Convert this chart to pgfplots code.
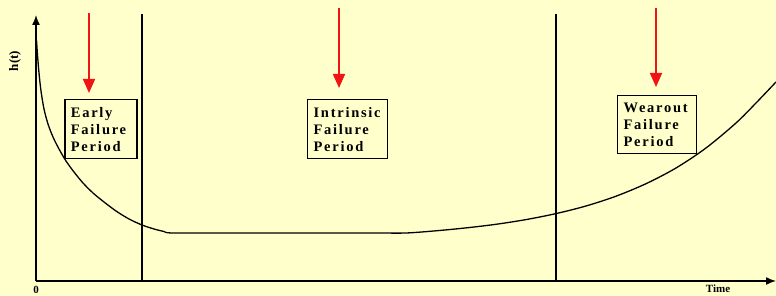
\documentclass[border=0pt]{standalone}
\usepackage{pgfplots}
\pgfplotsset{compat=1.18}
\usepackage{fontspec}
\setmainfont{Liberation Serif}
\usetikzlibrary{arrows.meta}
\definecolor{bg}{RGB}{255,255,204}
\definecolor{arr}{RGB}{240,20,20}
\newfontfamily\boxfam[LetterSpace=12]{Liberation Serif}
\newcommand{\boxfont}{\boxfam\fontsize{14.5}{17}\selectfont\bfseries}
\begin{document}
\begin{tikzpicture}
\path[use as bounding box, fill=bg] (0,0) rectangle (776pt,296pt);
\begin{axis}[
  at={(36pt,15pt)}, anchor=south west,
  scale only axis, width=740pt, height=266pt,
  xmin=0, xmax=740, ymin=0, ymax=266,
  axis lines=left,
  axis line style={line width=1.4pt, -{Latex[length=10pt,width=8pt]}},
  xtick=\empty, ytick=\empty,
  clip=false,
]
% bathtub curve
\addplot[black, line width=1.3pt, smooth, tension=0.5] coordinates {
(0.5,241) (1.5,226) (3,208) (5,190) (8,172) (12,157) (17,144) (23,132)
(30,120) (38,109) (47,98) (57,88) (68,79) (80,70) (93,62) (106,56)
(118,52) (128,49.5) (137,48) (200,48) (280,48) (340,48) (370,48)
(400,50.2) (430,53.1) (460,56.7) (490,61.4) (520,67.4) (550,75)
(580,84.8) (610,97.3) (640,113) (670,133) (700,158) (720,178) (740,199)
};
% period boundaries
\addplot[black, line width=1.3pt] coordinates {(106,0) (106,267)};
\addplot[black, line width=1.3pt] coordinates {(520,0) (520,267)};
% red arrows
\addplot[arr, line width=1.6pt, -{Triangle[length=14pt,width=12pt]}] coordinates {(53,268) (53,188)};
\addplot[arr, line width=1.6pt, -{Triangle[length=14pt,width=12pt]}] coordinates {(303,273) (303,193)};
\addplot[arr, line width=1.6pt, -{Triangle[length=14pt,width=12pt]}] coordinates {(620,273) (620,194)};
% boxes
\node[draw, line width=1.2pt, anchor=north west, inner xsep=6pt, inner ysep=3pt, minimum width=72pt, minimum height=59pt,
  text width=60pt, align=left, font=\boxfont] at (axis cs:28.3,182) {Early\\Failure\\Period};
\node[draw, line width=1.2pt, anchor=north west, inner xsep=6pt, inner ysep=3pt, minimum width=80pt, minimum height=59pt,
  text width=68pt, align=left, font=\boxfont] at (axis cs:271,182) {Intrinsic\\Failure\\Period};
\node[draw, line width=1.2pt, anchor=north west, inner xsep=6pt, inner ysep=3pt, minimum width=79pt, minimum height=58pt,
  text width=67pt, align=left, font=\boxfont] at (axis cs:581,186) {Wearout\\Failure\\Period};
% labels
\node[rotate=90, font=\fontsize{13}{14}\selectfont\bfseries] at (axis cs:-21,220) {h(t)};
\node[font=\fontsize{11}{12}\selectfont\bfseries] at (axis cs:0,-9) {0};
\node[font=\fontsize{11}{12}\selectfont\bfseries] at (axis cs:682,-8) {Time};
\end{axis}
\end{tikzpicture}
\end{document}
